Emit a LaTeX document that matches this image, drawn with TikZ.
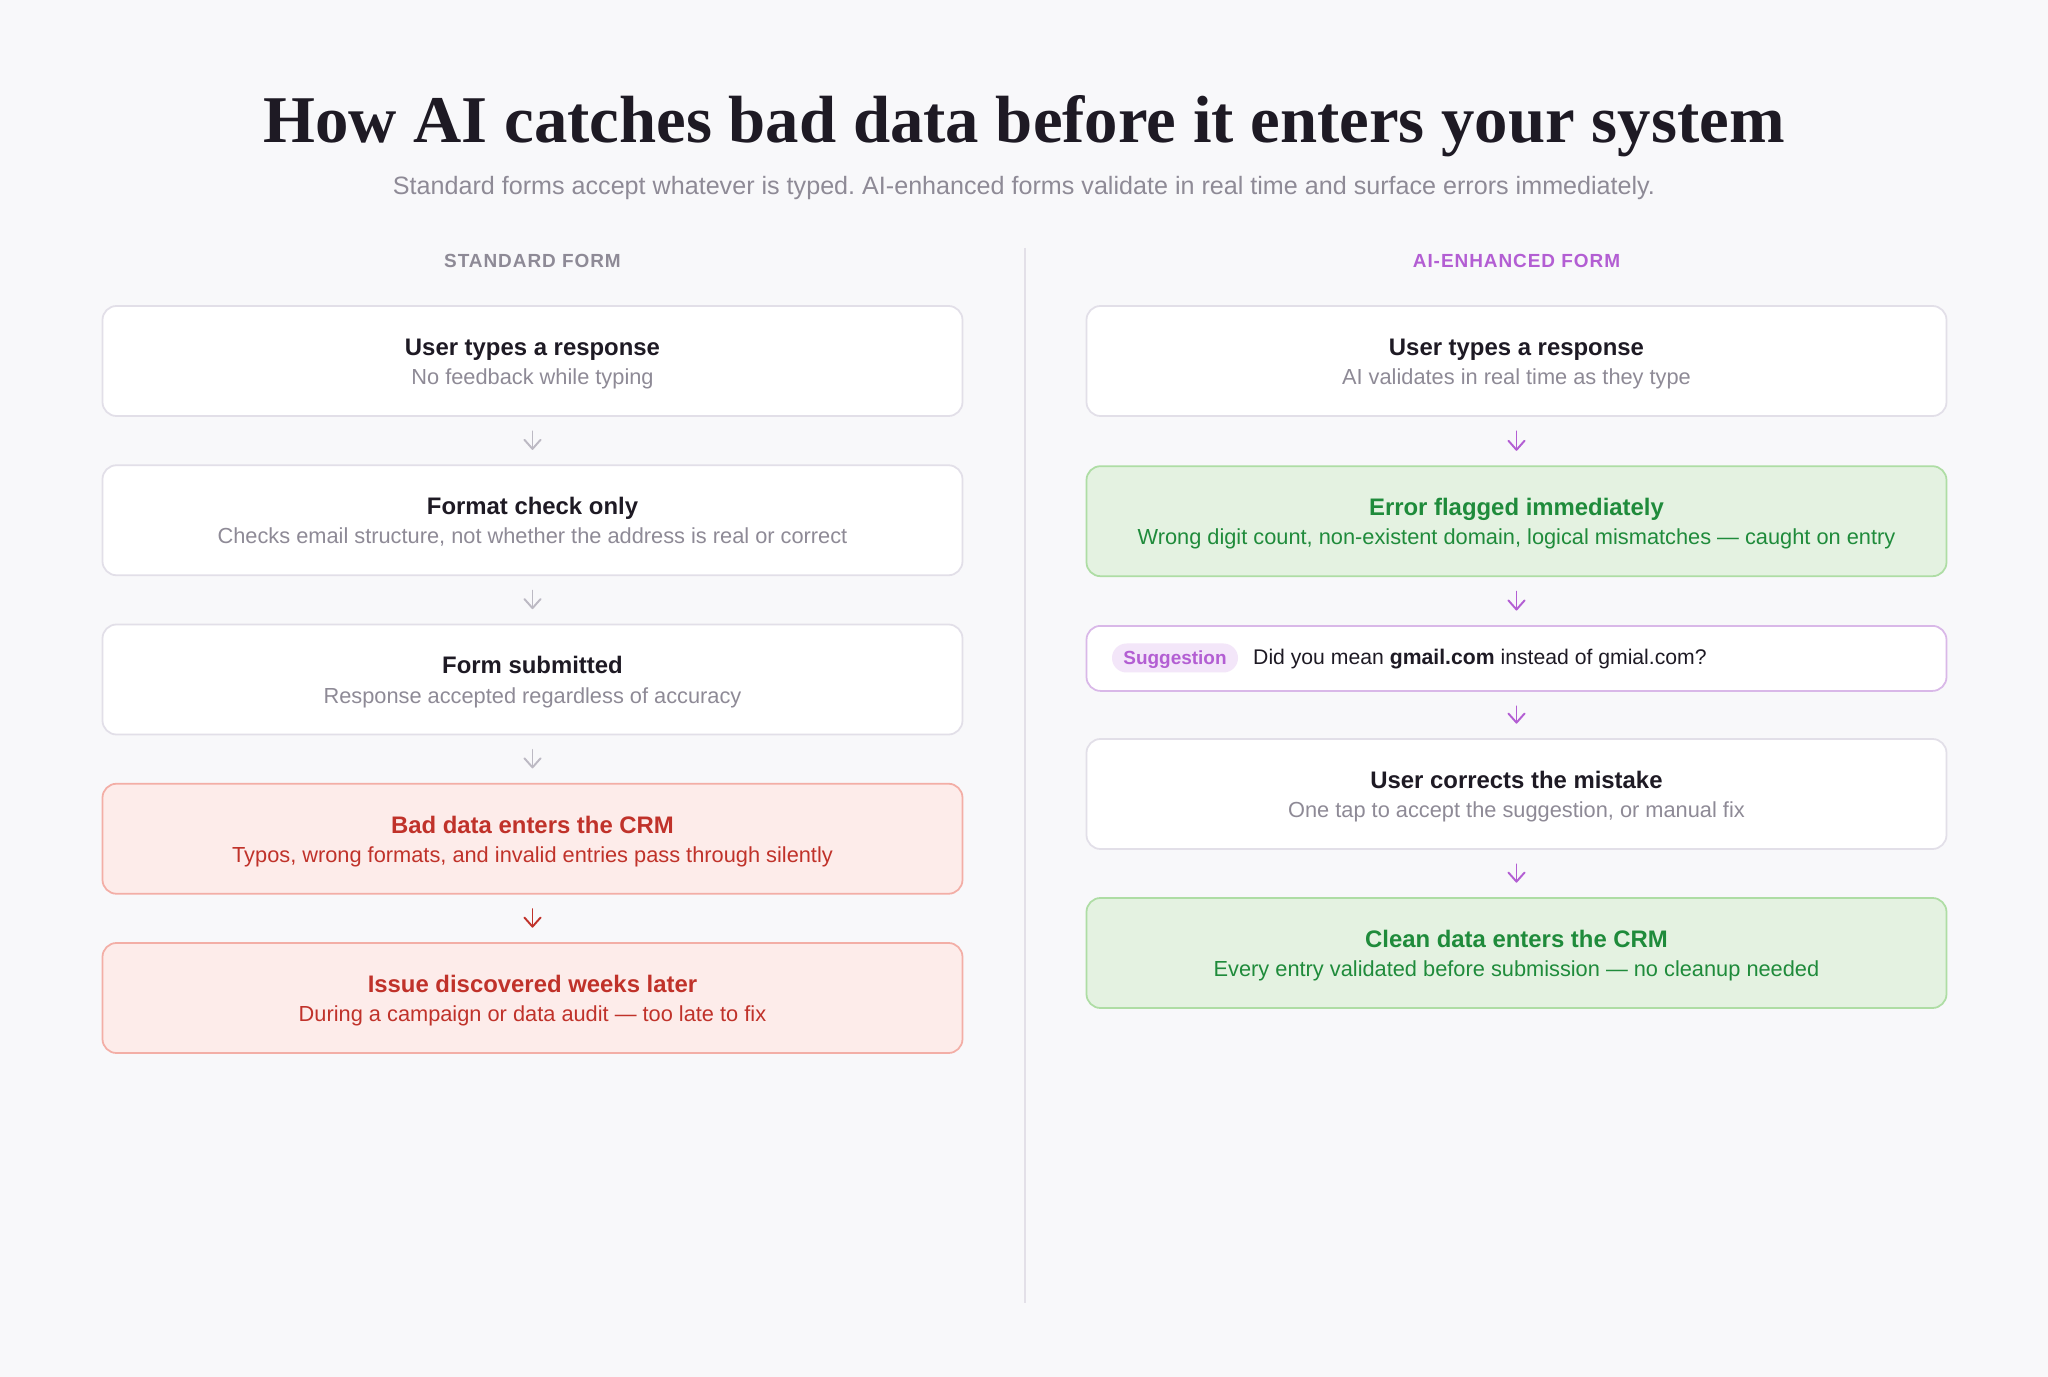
\documentclass[tikz,border=0pt]{standalone}
\usepackage{fontspec}
\setmainfont{Liberation Sans}
\newfontfamily\titlefont{Liberation Serif}
\usetikzlibrary{arrows.meta,positioning}
\frenchspacing

\definecolor{pagebg}{HTML}{F8F8FA}
\definecolor{ink}{HTML}{1E1A24}
\definecolor{subgray}{HTML}{8E8A96}
\definecolor{boxline}{HTML}{E2DFE8}
\definecolor{redfill}{HTML}{FDECEA}
\definecolor{redline}{HTML}{F3AEA6}
\definecolor{redtext}{HTML}{C0322A}
\definecolor{greenfill}{HTML}{E4F2E1}
\definecolor{greenline}{HTML}{AEDDA4}
\definecolor{greentext}{HTML}{1F8B3B}
\definecolor{purp}{HTML}{B35ED3}
\definecolor{purpline}{HTML}{D9B8E8}
\definecolor{pillfill}{HTML}{F3E6F9}
\definecolor{arrowgray}{HTML}{BCB9C3}
\definecolor{divider}{HTML}{E3E0E8}

\newcommand{\cardtitle}[2][.]{{\color{#1}\bfseries\fontsize{6.8}{8.3}\selectfont #2}}

\begin{document}
\begin{tikzpicture}[
    card/.style={draw=boxline,fill=white,line width=0.5pt,rounded corners=0.14cm,
        minimum width=8.6cm,minimum height=1.1cm,inner sep=0pt,align=center,
        text=subgray,font=\fontsize{6.2}{8.3}\selectfont,text height=14.8pt,text depth=1.4pt},
    redcard/.style={card,draw=redline,fill=redfill,text=redtext},
    greencard/.style={card,draw=greenline,fill=greenfill,text=greentext},
    hintcard/.style={card,draw=purpline,minimum height=0.65cm},
    pill/.style={fill=pillfill,rounded corners=0.145cm,minimum width=1.26cm,minimum height=0.29cm,
        inner sep=0pt,text=purp,font=\bfseries\fontsize{5.4}{6}\selectfont,text height=3.9pt,text depth=0pt},
    colhead/.style={anchor=base,font=\bfseries\fontsize{5.4}{6}\selectfont\addfontfeature{LetterSpace=5}},
    flow/.style={-{Straight Barb[round,length=2.6pt,width=4.6pt]},line width=0.55pt,line cap=round,
        shorten <=0.145cm,shorten >=0.145cm,draw=arrowgray},
    redflow/.style={flow,draw=redtext},
    purpleflow/.style={flow,draw=purp},
]
    \fill[pagebg] (0,0) rectangle (20.48,-13.77);
    \useasboundingbox (0,0) rectangle (20.48,-13.77);

    % heading
    \node[anchor=base,text=ink,font=\titlefont\bfseries\fontsize{19}{22}\selectfont] (title) at (10.24,-1.423)
        {How AI catches bad data before it enters your system};
    \node[anchor=base,text=subgray,font=\fontsize{7.15}{8}\selectfont] (subtitle) at (10.24,-1.95)
        {Standard forms accept whatever is typed. AI-enhanced forms validate in real time and surface errors immediately.};

    % column heads and divider
    \node[colhead,text=subgray] (lhead) at (5.325,-2.673) {STANDARD FORM};
    \node[colhead,text=purp] (rhead) at (15.165,-2.673) {AI-ENHANCED FORM};
    \draw[divider,line width=0.6pt] (10.25,-2.48)--(10.25,-13.03);

    % standard form
    \node[card] (l1) at (5.325,-3.61) {\cardtitle[ink]{User types a response}\\No feedback while typing};
    \node[card] (l2) at (5.325,-5.2025) {\cardtitle[ink]{Format check only}\\Checks email structure, not whether the address is real or correct};
    \node[card] (l3) at (5.325,-6.795) {\cardtitle[ink]{Form submitted}\\Response accepted regardless of accuracy};
    \node[redcard] (l4) at (5.325,-8.3875) {\cardtitle{Bad data enters the CRM}\\Typos, wrong formats, and invalid entries pass through silently};
    \node[redcard] (l5) at (5.325,-9.98) {\cardtitle{Issue discovered weeks later}\\During a campaign or data audit — too late to fix};

    \draw[flow] (l1)--(l2);
    \draw[flow] (l2)--(l3);
    \draw[flow] (l3)--(l4);
    \draw[redflow] (l4)--(l5);

    % AI-enhanced form
    \node[card] (r1) at (15.165,-3.61) {\cardtitle[ink]{User types a response}\\AI validates in real time as they type};
    \node[greencard] (r2) at (15.165,-5.212) {\cardtitle{Error flagged immediately}\\Wrong digit count, non-existent domain, logical mismatches — caught on entry};
    \node[hintcard,text height=0pt,text depth=0pt] (r3) at (15.165,-6.584) {};
    \node[pill] (hintpill) at (11.75,-6.58) {Suggestion};
    \node[anchor=base west,inner sep=0pt,text=ink,font=\fontsize{6.03}{8}\selectfont] (hinttext) at (12.525,-6.65)
        {Did you mean \textbf{gmail.com} instead of gmial.com?};
    \node[card] (r4) at (15.165,-7.94) {\cardtitle[ink]{User corrects the mistake}\\One tap to accept the suggestion, or manual fix};
    \node[greencard] (r5) at (15.165,-9.53) {\cardtitle{Clean data enters the CRM}\\Every entry validated before submission — no cleanup needed};

    \draw[purpleflow] (r1)--(r2);
    \draw[purpleflow] (r2)--(r3);
    \draw[purpleflow] (r3)--(r4);
    \draw[purpleflow] (r4)--(r5);
\end{tikzpicture}
\end{document}
